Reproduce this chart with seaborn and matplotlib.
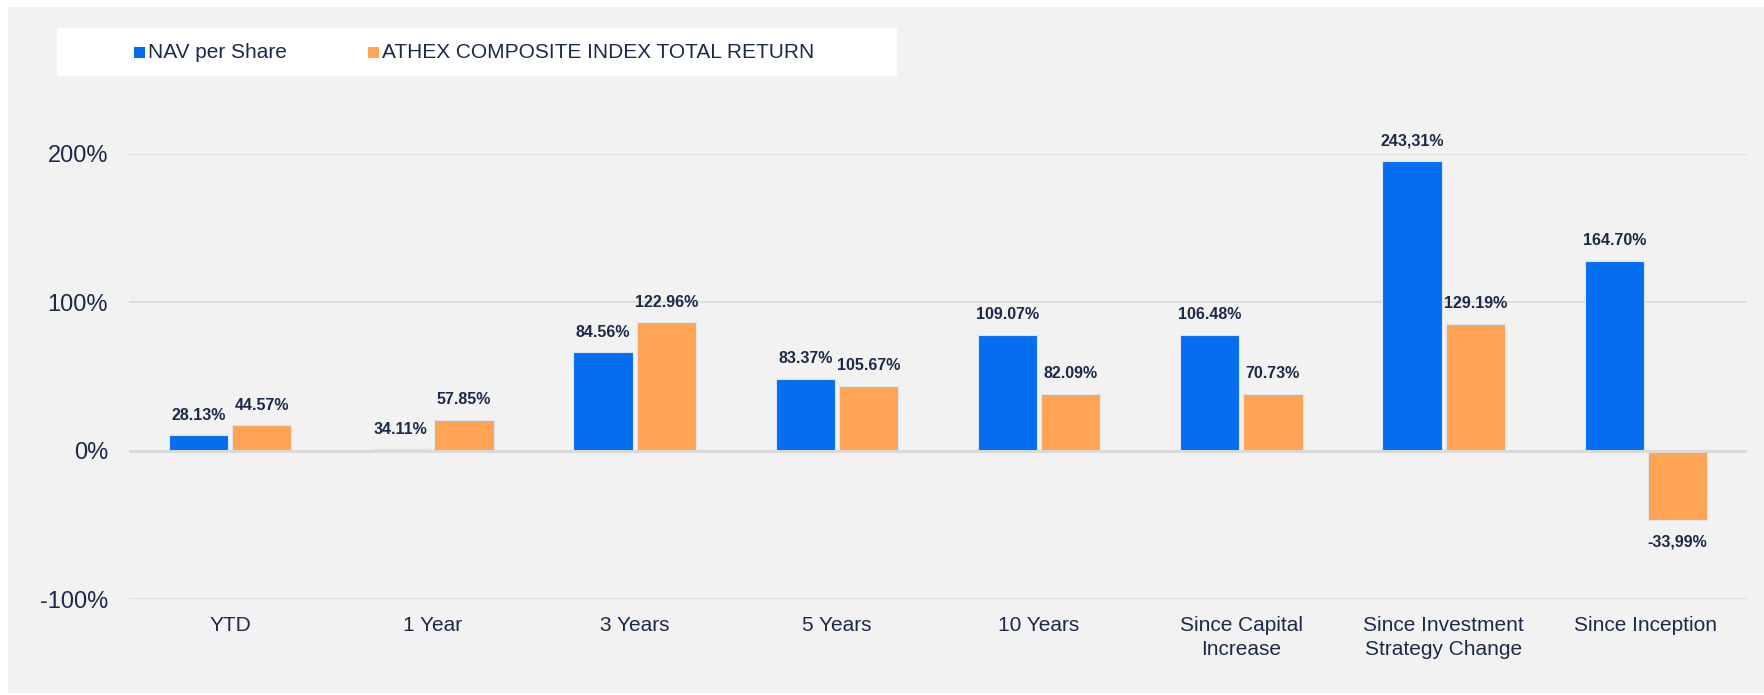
import pandas as pd
import seaborn as sns
import matplotlib.pyplot as plt
from matplotlib.patches import Rectangle

# data
categories = ['YTD', '1 Year', '3 Years', '5 Years', '10 Years',
              'Since Capital\nIncrease', 'Since Investment\nStrategy Change', 'Since Inception']
series_names = ['NAV per Share', 'ATHEX COMPOSITE INDEX TOTAL RETURN']
nav_heights = [10.4, 1.0, 66.4, 48.6, 78.1, 78.1, 195.3, 128.2]
athex_heights = [17.2, 20.8, 86.6, 43.7, 38.3, 38.3, 85.5, -46.6]
nav_labels = ['28.13%', '34.11%', '84.56%', '83.37%', '109.07%', '106.48%', '243,31%', '164.70%']
athex_labels = ['44.57%', '57.85%', '122.96%', '105.67%', '82.09%', '70.73%', '129.19%', '-33,99%']
y_ticks = [-100, 0, 100, 200]

blue = '#046EEE'
orange = '#FFA354'
navy = '#1B2A4A'
panel = '#F2F2F2'

df = pd.DataFrame({
    'category': categories * 2,
    'series': [series_names[0]] * len(categories) + [series_names[1]] * len(categories),
    'value': nav_heights + athex_heights,
})

sns.set_theme(style='white')
plt.rcParams['font.family'] = ['Liberation Sans', 'DejaVu Sans']

fig = plt.figure(figsize=(17.64, 6.95), dpi=100)
fig.patch.set_facecolor('white')
fig.patches.append(Rectangle((8 / 1764, 2 / 695), 1 - 8 / 1764, 686 / 695,
                             transform=fig.transFigure, facecolor=panel,
                             edgecolor='none', zorder=-2))
# legend box
fig.patches.append(Rectangle((57 / 1764, 1 - 76 / 695), 840 / 1764, 48 / 695,
                             transform=fig.transFigure, facecolor='white',
                             edgecolor='none', zorder=-1))

ax = fig.add_axes([129 / 1764, 95.7 / 695, 1618 / 1764, 445.3 / 695])
ax.set_facecolor('none')
ax.set_zorder(3)

sns.barplot(data=df, x='category', y='value', hue='series', order=categories,
            hue_order=series_names, palette=[blue, orange], saturation=1,
            width=0.625, gap=0.06, edgecolor='#DCE6F2', linewidth=0.8,
            legend=False, ax=ax, zorder=3)

ax.set_ylim(-100, 200)
ax.set_yticks(y_ticks)
ax.set_yticklabels([f'{t}%' for t in y_ticks])
for t in y_ticks:
    ax.axhline(t, color='#D9D9D9', lw=2.2 if t == 0 else 1.1, zorder=4 if t == 0 else 2)

for s in ax.spines.values():
    s.set_visible(False)
ax.tick_params(axis='y', length=0, pad=15, labelsize=17, labelcolor=navy)
ax.tick_params(axis='x', length=0, pad=12, labelsize=15, labelcolor=navy)
for lbl in ax.get_xticklabels():
    lbl.set_linespacing(1.35)
ax.set_xlabel('')
ax.set_ylabel('')

# value labels above (or below) each bar
for cont, labels in zip(ax.containers, [nav_labels, athex_labels]):
    for bar, lab in zip(cont, labels):
        y0 = bar.get_y()
        h = bar.get_height()
        top = max(y0, y0 + h)
        bottom = min(y0, y0 + h)
        neg = bottom < 0
        ax.annotate(lab, (bar.get_x() + bar.get_width() / 2, bottom if neg else top),
                    xytext=(0, -16 if neg else 14.5), textcoords='offset points',
                    ha='center', va='center', fontsize=11.5, fontweight='bold',
                    color=navy, annotation_clip=False, zorder=5)

# legend
fig.patches.append(Rectangle((134 / 1764, 1 - 58 / 695), 11 / 1764, 11 / 695,
                             transform=fig.transFigure, facecolor=blue, edgecolor='none', zorder=2))
fig.text(148 / 1764, 1 - 53 / 695, series_names[0], fontsize=15, color=navy, va='center', ha='left')
fig.patches.append(Rectangle((368 / 1764, 1 - 58 / 695), 11 / 1764, 11 / 695,
                             transform=fig.transFigure, facecolor=orange, edgecolor='none', zorder=2))
fig.text(382 / 1764, 1 - 53 / 695, series_names[1], fontsize=15, color=navy, va='center', ha='left')

fig.savefig('out.png', dpi=100, facecolor=fig.get_facecolor())
